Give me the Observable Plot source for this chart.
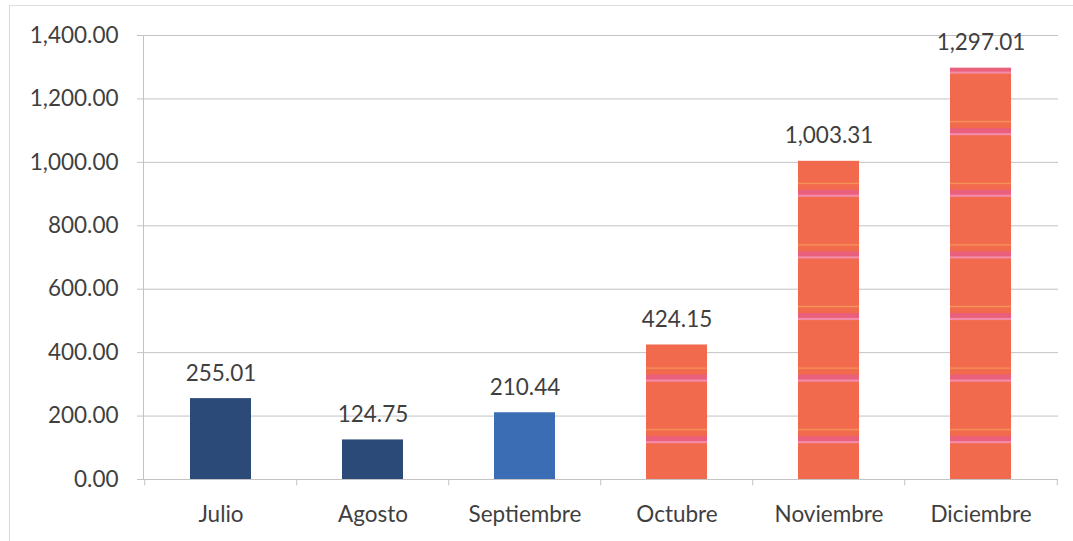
<!DOCTYPE html>
<html>
<head>
<meta charset="utf-8">
<script src="https://cdn.jsdelivr.net/npm/d3@7"></script>
<script src="https://cdn.jsdelivr.net/npm/@observablehq/plot@0.6"></script>
<style>
  body { margin: 0; background: #fff; }
  #wrap { position: relative; width: 1073px; height: 541px; overflow: hidden; }
  #border { position: absolute; left: 9px; top: 5px; width: 1100px; height: 600px;
            border-left: 1px solid #d9d9d9; border-top: 1px solid #dedede; }
  #chart { position: absolute; left: 0; top: 0; }
</style>
</head>
<body>
<svg width="0" height="0" style="position:absolute">
  <defs>
    <pattern id="stripes" patternUnits="userSpaceOnUse" width="20" height="61.6" x="0" y="0">
      <rect x="0" y="0" width="20" height="61.6" fill="#f26a4d"/>
      <rect x="0" y="59.5" width="20" height="1.2" fill="#f7a35e" opacity="0.8"/>
      <rect x="0" y="5" width="20" height="5" fill="#ea5f7c"/>
      <rect x="0" y="10" width="20" height="2" fill="#f48db0"/>
    </pattern>
  </defs>
</svg>
<div id="wrap">
  <div id="border"></div>
  <div id="chart"></div>
</div>
<script>
const months = ["Julio", "Agosto", "Septiembre", "Octubre", "Noviembre", "Diciembre"];
const values = [255.01, 124.75, 210.44, 424.15, 1003.31, 1297.01];
const colors = ["#2c4a78", "#2c4a78", "#3b6db4", "url(#stripes)", "url(#stripes)", "url(#stripes)"];
const yTicks = [0, 200, 400, 600, 800, 1000, 1200, 1400];

const data = months.map((m, i) => ({month: m, value: values[i], color: colors[i]}));
const fmt = d3.format(",.2f");
const font = "Lato, 'Open Sans', sans-serif";
const grey = "#c3c3c3";
const textColor = "#3f3f3f";
const halfStep = 915 / 6 / 2;
const fs = 22.5;

const chart = Plot.plot({
  width: 1073,
  height: 541,
  marginLeft: 143,
  marginRight: 15,
  marginTop: 35,
  marginBottom: 62,
  style: {fontFamily: font, background: "transparent", color: textColor},
  x: {domain: months, paddingInner: 0.6, paddingOuter: 0.3, axis: null, label: null},
  y: {domain: [0, 1400], axis: null, label: null},
  marks: [
    Plot.gridY(yTicks, {stroke: grey, strokeOpacity: 1}),
    Plot.frame({anchor: "left", stroke: grey}),
    Plot.axisY(yTicks, {
      tickFormat: fmt, tickSize: 6, tickPadding: 19, stroke: grey,
      fontSize: fs, fill: textColor, label: null
    }),
    Plot.barY(data, {x: "month", y: "value", fill: "color"}),
    Plot.ruleY([0], {stroke: grey}),
    Plot.ruleX(months, {x: d => d, dx: -halfStep, y1: 0, y2: -20, stroke: grey, clip: false}),
    Plot.ruleX(months.slice(-1), {x: d => d, dx: halfStep, y1: 0, y2: -20, stroke: grey, clip: false}),
    Plot.axisX(months, {tickSize: 0, tickPadding: 27, fontSize: fs, fill: textColor, label: null}),
    Plot.text(data, {
      x: "month", y: "value", text: d => fmt(d.value), dy: -18,
      lineAnchor: "bottom", fontSize: fs, fill: textColor
    })
  ]
});
document.getElementById("chart").append(chart);
</script>
</body>
</html>
